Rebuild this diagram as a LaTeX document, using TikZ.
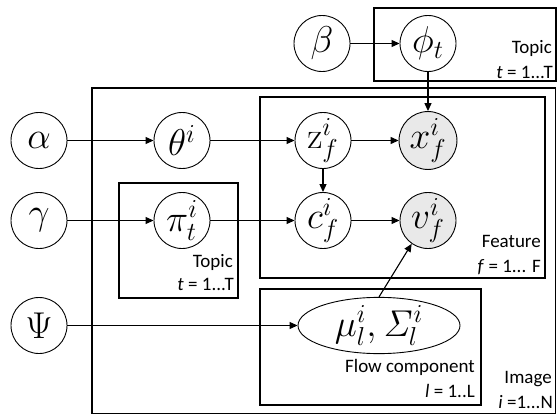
\documentclass[tikz,border=0pt]{standalone}
\usepackage{graphicx}
\usepackage[no-math]{fontspec}
\setmainfont{Carlito}
\usetikzlibrary{arrows.meta,shapes.geometric}
\newcommand{\bigmath}[1]{\scalebox{1.8}{$#1$}}
\begin{document}
\begin{tikzpicture}[x=1pt,y=-1pt,
  var/.style={circle,draw,line width=0.9pt,minimum size=56pt,inner sep=0pt,fill=white,font=\fontsize{20}{22}\selectfont},
  obs/.style={var,fill=gray!17},
  arr/.style={line width=1.1pt,-{Triangle[length=8pt,width=7pt]}},
  plate/.style={draw,line width=1.6pt},
  lab/.style={font=\fontsize{19}{21}\selectfont,inner sep=0pt}]
\useasboundingbox (0,0) rectangle (558,415);
% plates
\draw[plate,line width=1.2pt] (92,88) rectangle (555.5,413.5);
\draw[plate] (374,8) rectangle (556,81);
\draw[plate] (260,97) rectangle (545,278);
\draw[plate] (119,183) rectangle (238,298);
\draw[plate] (260,289) rectangle (481,405);
% nodes
\node[var] (beta) at (322,43.5) {\bigmath{\beta}};
\node[var] (phi) at (428,43.5) {\bigmath{\phi_t}};
\node[var] (alpha) at (39,140.5) {\bigmath{\alpha}};
\node[var] (theta) at (182,140.5) {\bigmath{\theta^i}};
\node[var] (z) at (323,140.5) {\bigmath{\mathrm{z}_f^i}};
\node[obs] (x) at (428,140.5) {\bigmath{x_f^i}};
\node[var] (gamma) at (39,220.5) {\bigmath{\gamma}};
\node[var] (pi) at (182,220.5) {\bigmath{\pi_t^i}};
\node[var] (c) at (323,220.5) {\bigmath{c_f^i}};
\node[obs] (v) at (428,220.5) {\bigmath{v_f^i}};
\node[var] (psi) at (39,325.5) {\bigmath{\Psi}};
\node[ellipse,draw,line width=0.9pt,minimum width=162pt,minimum height=54pt,inner sep=0pt,fill=white,font=\fontsize{20}{22}\selectfont] (mu) at (379,325.5) {\bigmath{\mu_l^i,\mathit{\Sigma}_l^i}};
% edges
\draw[arr] (beta) -- (phi);
\draw[arr] (phi) -- (x);
\draw[arr] (alpha) -- (theta);
\draw[arr] (theta) -- (z);
\draw[arr] (z) -- (x);
\draw[arr] (z) -- (c);
\draw[arr] (gamma) -- (pi);
\draw[arr] (pi) -- (c);
\draw[arr] (c) -- (v);
\draw[arr] (psi) -- (mu);
\draw[arr] (mu.north) -- (v.235);
% labels
\node[lab,anchor=base east] (t1a) at (552,53) {Topic};
\node[lab,anchor=base east] (t1b) at (553,78) {\textit{t} = 1...T};
\node[lab,anchor=base east] (fa) at (541,247) {Feature};
\node[lab,anchor=base east] (fb) at (541,272) {\textit{f} = 1... F};
\node[lab,anchor=base east] (t2a) at (233,267) {Topic};
\node[lab,anchor=base east] (t2b) at (234,290) {\textit{t} = 1...T};
\node[lab,anchor=base east] (la) at (475,372) {Flow component};
\node[lab,anchor=base east] (lb) at (475,397) {\textit{l} = 1..L};
\node[lab,anchor=base east] (ia) at (552,383) {Image};
\node[lab,anchor=base east] (ib) at (553,408) {\textit{i} =1...N};
\end{tikzpicture}
\end{document}
